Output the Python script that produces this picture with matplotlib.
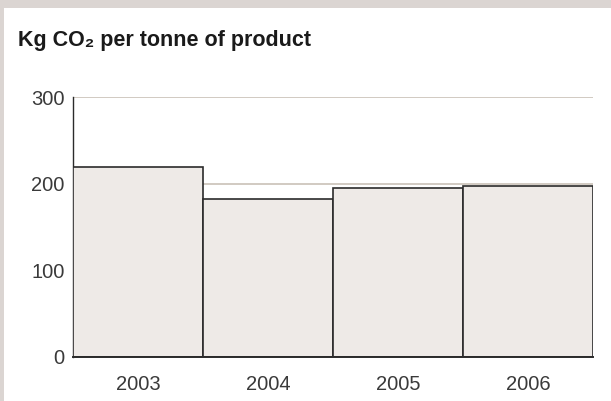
import matplotlib.pyplot as plt
from matplotlib.patches import Rectangle

years = ['2003', '2004', '2005', '2006']
kg_co2 = [220, 183, 195, 198]
y_ticks = [0, 100, 200, 300]

plt.rcParams['font.family'] = ['Liberation Sans', 'DejaVu Sans']

fig = plt.figure(figsize=(6.11, 4.01), dpi=100)
fig.patch.set_facecolor('white')

# grey frame strips along the top and left edge
band = '#dbd5d2'
fig.add_artist(Rectangle((0, 1 - 8 / 401), 1, 8 / 401, transform=fig.transFigure,
                         facecolor=band, edgecolor='none'))
fig.add_artist(Rectangle((0, 0), 4 / 611, 1, transform=fig.transFigure,
                         facecolor=band, edgecolor='none'))

ax = fig.add_axes([73 / 611, 44 / 401, 520 / 611, 259.5 / 401])
x = range(len(years))
ax.bar(x, kg_co2, width=1.0, color='#eeeae7', edgecolor='#2b2b2b',
       linewidth=1.2, zorder=3)

ax.set_xlim(-0.5, len(years) - 0.5)
ax.set_ylim(0, 300)
ax.set_yticks(y_ticks)
ax.set_xticks(list(x))
ax.set_xticklabels(years)
ax.yaxis.grid(True, color='#c9c1b7', linewidth=1.2, zorder=0)
ax.set_axisbelow(True)

for s in ['top', 'right']:
    ax.spines[s].set_visible(False)
ax.spines['left'].set_color('#2b2b2b')
ax.spines['left'].set_linewidth(1.0)
ax.spines['bottom'].set_color('#2b2b2b')
ax.spines['bottom'].set_linewidth(1.4)
ax.spines['bottom'].set_zorder(4)

ax.tick_params(axis='both', length=0, labelsize=14.5, labelcolor='#3a3a3a')
ax.tick_params(axis='y', pad=6)
ax.tick_params(axis='x', pad=13)

fig.text(18 / 611, 1 - 46 / 401, 'Kg CO\u2082 per tonne of product',
         fontweight='bold', fontsize=15.5, color='#1a1a1a')

fig.savefig('out.png', dpi=100)
